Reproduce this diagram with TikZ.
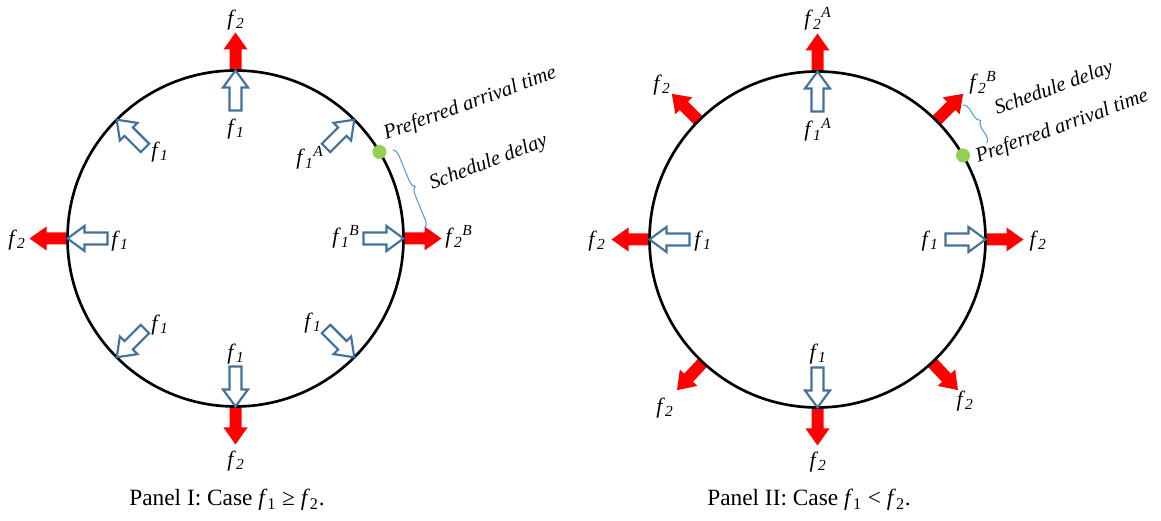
\documentclass[tikz,border=0pt]{standalone}
\usepackage{fontspec}
\setmainfont{Liberation Serif}
\usetikzlibrary{
  calc,
  decorations.pathreplacing
}
\definecolor{forcered}{RGB}{255, 0, 0}
\definecolor{forceblue}{RGB}{65, 113, 156}
\definecolor{dotgreen}{RGB}{146, 208, 80}
\definecolor{bracecolor}{RGB}{91, 155, 213}
\newcommand{\fsub}[1]{\textit{f}\textsubscript{\textit{#1}}}
\newcommand{\fsubsup}[2]{\textit{f}\textsubscript{\textit{#1}}\textsuperscript{\textit{#2}}}
\tikzset{
ring/.style={
  draw=black,
  line width=2pt
},
flabel/.style={
  font=\fontsize{16.5}{19}\selectfont,
  inner sep=0pt
},
notelabel/.style={
  font=\fontsize{15.5}{18}\selectfont\itshape,
  inner sep=0pt,
  anchor=base west,
  rotate=20
},
panelcaption/.style={
  font=\fontsize{17.5}{20}\selectfont,
  inner sep=0pt
},
arrivaldot/.style={
  circle,
  fill=dotgreen,
  minimum size=10.5pt,
  inner sep=0pt
},
delaybrace/.style={
  draw=bracecolor,
  line width=0.8pt,
  decorate,
  decoration={brace, amplitude=5pt}
},
outforce/.pic={
  \fill[forcered] (0,-6) -- (21,-6) -- (21,-12) -- (38,0) -- (21,12) -- (21,6) -- (0,6) -- cycle;
},
inforce/.pic={
  \draw[forceblue, fill=white, line width=1.6pt] (0,0) -- (-17,12.5) -- (-17,6) -- (-40,6)
    -- (-40,-6) -- (-17,-6) -- (-17,-12.5) -- cycle;
}
}

\begin{document}
\begin{tikzpicture}[x=0.75pt, y=0.75pt]
  \useasboundingbox (0,0) rectangle (1161,521);

  % Panel I
  \coordinate (lc) at (235.5,282.5);
  \foreach \a in {0,90,180,270}
    \pic[rotate=\a] at ($(lc)+(\a:168)$) {outforce};
  \draw[ring] (lc) circle (168);
  \foreach \a in {0,45,90,135,180,225,270,315}
    \pic[rotate=\a] at ($(lc)+(\a:168)$) {inforce};
  \node[arrivaldot] (lpat) at ($(lc)+(31:168)$) {};
  \coordinate (lbtop) at (393,371);
  \coordinate (lbbot) at (425,293);
  \draw[delaybrace] (lbtop) -- (lbbot);
  \node[notelabel] (lpattext) at (386,381) {Preferred arrival time};
  \node[notelabel, rotate=1] (ldelay) at (432,331) {Schedule delay};

  \node[flabel] (lf2top) at (236,501) {\fsub{2}};
  \node[flabel] (lf1top) at (236,392) {\fsub{1}};
  \node[flabel] (lf1ul) at (160,369) {\fsub{1}};
  \node[flabel] (lf1ur) at (310,363) {\fsubsup{1}{A}};
  \node[flabel] (lf2left) at (17,281) {\fsub{2}};
  \node[flabel] (lf1left) at (120,280) {\fsub{1}};
  \node[flabel] (lf1right) at (346,284) {\fsubsup{1}{B}};
  \node[flabel] (lf2right) at (459,284) {\fsubsup{2}{B}};
  \node[flabel] (lf1ll) at (160,196) {\fsub{1}};
  \node[flabel] (lf1lr) at (313,198) {\fsub{1}};
  \node[flabel] (lf1bot) at (236,167) {\fsub{1}};
  \node[flabel] (lf2bot) at (236,60) {\fsub{2}};
  \node[panelcaption] (lcap) at (227,21) {Panel I: Case \textit{f}\textsubscript{1} ≥ \textit{f}\textsubscript{2}.};

  % Panel II
  \coordinate (rc) at (817.5,281.5);
  \foreach \a in {0,45,90,135,180,227,270,313}
    \pic[rotate=\a] at ($(rc)+(\a:168)$) {outforce};
  \draw[ring] (rc) circle (168);
  \foreach \a in {0,90,180,270}
    \pic[rotate=\a] at ($(rc)+(\a:168)$) {inforce};
  \node[arrivaldot] (rpat) at ($(rc)+(30:168)$) {};
  \coordinate (rbtop) at (963,416);
  \coordinate (rbbot) at (987,378);
  \draw[delaybrace] (rbtop) -- (rbbot);
  \node[notelabel] (rdelay) at (997,406) {Schedule delay};
  \node[notelabel] (rpattext) at (978,358) {Preferred arrival time};

  \node[flabel] (rf2top) at (818,502) {\fsubsup{2}{A}};
  \node[flabel] (rf1top) at (818,391) {\fsubsup{1}{A}};
  \node[flabel] (rf2ul) at (662,436) {\fsub{2}};
  \node[flabel] (rf2ur) at (983,438) {\fsubsup{2}{B}};
  \node[flabel] (rf2left) at (597,280) {\fsub{2}};
  \node[flabel] (rf1left) at (703,280) {\fsub{1}};
  \node[flabel] (rf1right) at (930,280) {\fsub{1}};
  \node[flabel] (rf2right) at (1038,280) {\fsub{2}};
  \node[flabel] (rf2ll) at (665,113) {\fsub{2}};
  \node[flabel] (rf2lr) at (965,120) {\fsub{2}};
  \node[flabel] (rf1bot) at (818,167) {\fsub{1}};
  \node[flabel] (rf2bot) at (818,59) {\fsub{2}};
  \node[panelcaption] (rcap) at (809,21) {Panel II: Case \textit{f}\textsubscript{1} < \textit{f}\textsubscript{2}.};
\end{tikzpicture}
\end{document}
